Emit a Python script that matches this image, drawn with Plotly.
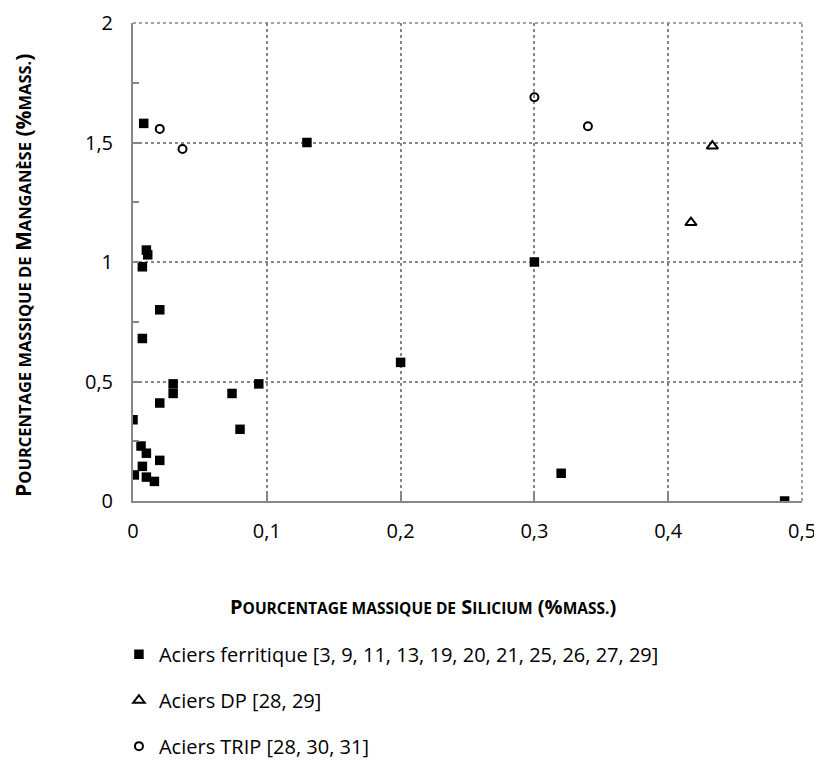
import plotly.graph_objects as go

# Aciers ferritique
fer_si = [0.008, 0.130, 0.300, 0.320, 0.487, 0.094, 0.074, 0.080, 0.200,
          0.010, 0.011, 0.007, 0.020, 0.007, 0.030, 0.030, 0.020, 0.000,
          0.006, 0.010, 0.020, 0.007, 0.001, 0.010, 0.016]
fer_mn = [1.58, 1.50, 1.00, 0.116, 0.0, 0.49, 0.45, 0.30, 0.58,
          1.05, 1.03, 0.98, 0.80, 0.68, 0.49, 0.45, 0.41, 0.34,
          0.23, 0.20, 0.17, 0.145, 0.109, 0.10, 0.082]
# Aciers DP
dp_si = [0.433, 0.417]
dp_mn = [1.485, 1.165]
# Aciers TRIP
trip_si = [0.020, 0.037, 0.300, 0.340]
trip_mn = [1.557, 1.473, 1.689, 1.568]

x_ticks = [0, 0.1, 0.2, 0.3, 0.4, 0.5]
x_labels = ["0", "0,1", "0,2", "0,3", "0,4", "0,5"]
y_ticks = [0, 0.5, 1, 1.5, 2]
y_labels = ["0", "0,5", "1", "1,5", "2"]

names = ["Aciers ferritique [3, 9, 11, 13, 19, 20, 21, 25, 26, 27, 29]",
         "Aciers DP [28, 29]",
         "Aciers TRIP [28, 30, 31]"]

FONT = "Open Sans"
GRID = "#868686"

fig = go.Figure()
fig.add_trace(go.Scatter(x=fer_si, y=fer_mn, mode="markers", name=names[0],
                         legendgroup="a",
                         marker=dict(symbol="square", size=9.5, color="black",
                                     line=dict(width=0))))
fig.add_trace(go.Scatter(x=dp_si, y=dp_mn, mode="markers", name=names[1],
                         legendgroup="b",
                         marker=dict(symbol="triangle-up-open", size=10, color="black",
                                     line=dict(width=2, color="black"))))
fig.add_trace(go.Scatter(x=trip_si, y=trip_mn, mode="markers", name=names[2],
                         legendgroup="c",
                         marker=dict(symbol="circle-open", size=8, color="black",
                                     line=dict(width=2, color="black"))))

def small_caps(big, small, size_small):
    sc = f"font-size:{size_small}px"
    return (f"<b>P<span style='{sc}'>OURCENTAGE MASSIQUE DE</span> {big}"
            f"<span style='{sc}'>{small}</span> (%<span style='{sc}'>MASS.</span>)</b>")

xtitle = small_caps("S", "ILICIUM", 15.5)
ytitle = small_caps("M", "ANGANÈSE", 16.5)

# the page body adds an 8px offset, so the figure is 814x752 to end at the window edge
fig.update_layout(
    width=814, height=752,
    margin=dict(l=125, r=20, t=15, b=258.5, autoexpand=False),
    paper_bgcolor="white", plot_bgcolor="white",
    font=dict(family=FONT, size=20, color="black"),
    showlegend=True,
    legend=dict(x=-0.021, y=-0.2796, xanchor="left", yanchor="top",
                traceorder="grouped", tracegroupgap=17,
                font=dict(family=FONT, size=20, color="black"),
                bgcolor="rgba(0,0,0,0)"),
    xaxis=dict(range=[0, 0.5], tickvals=x_ticks, ticktext=x_labels,
               showgrid=True, gridcolor=GRID, griddash="dot", gridwidth=1.5,
               showline=True, linecolor=GRID, linewidth=2,
               ticks="inside", ticklen=8, tickwidth=2, tickcolor=GRID,
               ticklabelstandoff=11, zeroline=False,
               tickfont=dict(family=FONT, size=20, color="black")),
    yaxis=dict(range=[0, 2], tickvals=y_ticks, ticktext=y_labels,
               showgrid=True, gridcolor=GRID, griddash="dot", gridwidth=1.5,
               showline=True, linecolor=GRID, linewidth=2,
               ticks="inside", ticklen=6, tickwidth=2, tickcolor=GRID,
               minor=dict(dtick=0.25, tick0=0, ticks="inside", ticklen=6,
                          tickwidth=2, tickcolor=GRID, showgrid=False),
               ticklabelstandoff=14, zeroline=False,
               tickfont=dict(family=FONT, size=20, color="black")),
    shapes=[
        dict(type="line", xref="paper", yref="paper", x0=0, x1=1, y0=1, y1=1,
             line=dict(color=GRID, width=1.5, dash="dot"), layer="below"),
        dict(type="line", xref="paper", yref="paper", x0=1, x1=1, y0=0, y1=1,
             line=dict(color=GRID, width=1.5, dash="dot"), layer="below"),
    ],
    annotations=[
        dict(text=xtitle, xref="paper", yref="paper", x=0.434, y=-0.221,
             xanchor="center", yanchor="middle", showarrow=False,
             font=dict(family=FONT, size=20, color="black")),
        dict(text=ytitle, xref="paper", yref="paper", x=-0.1644, y=0.471,
             xanchor="center", yanchor="middle", showarrow=False, textangle=-90,
             font=dict(family=FONT, size=21, color="black")),
    ],
)

fig.write_html("out.html")
